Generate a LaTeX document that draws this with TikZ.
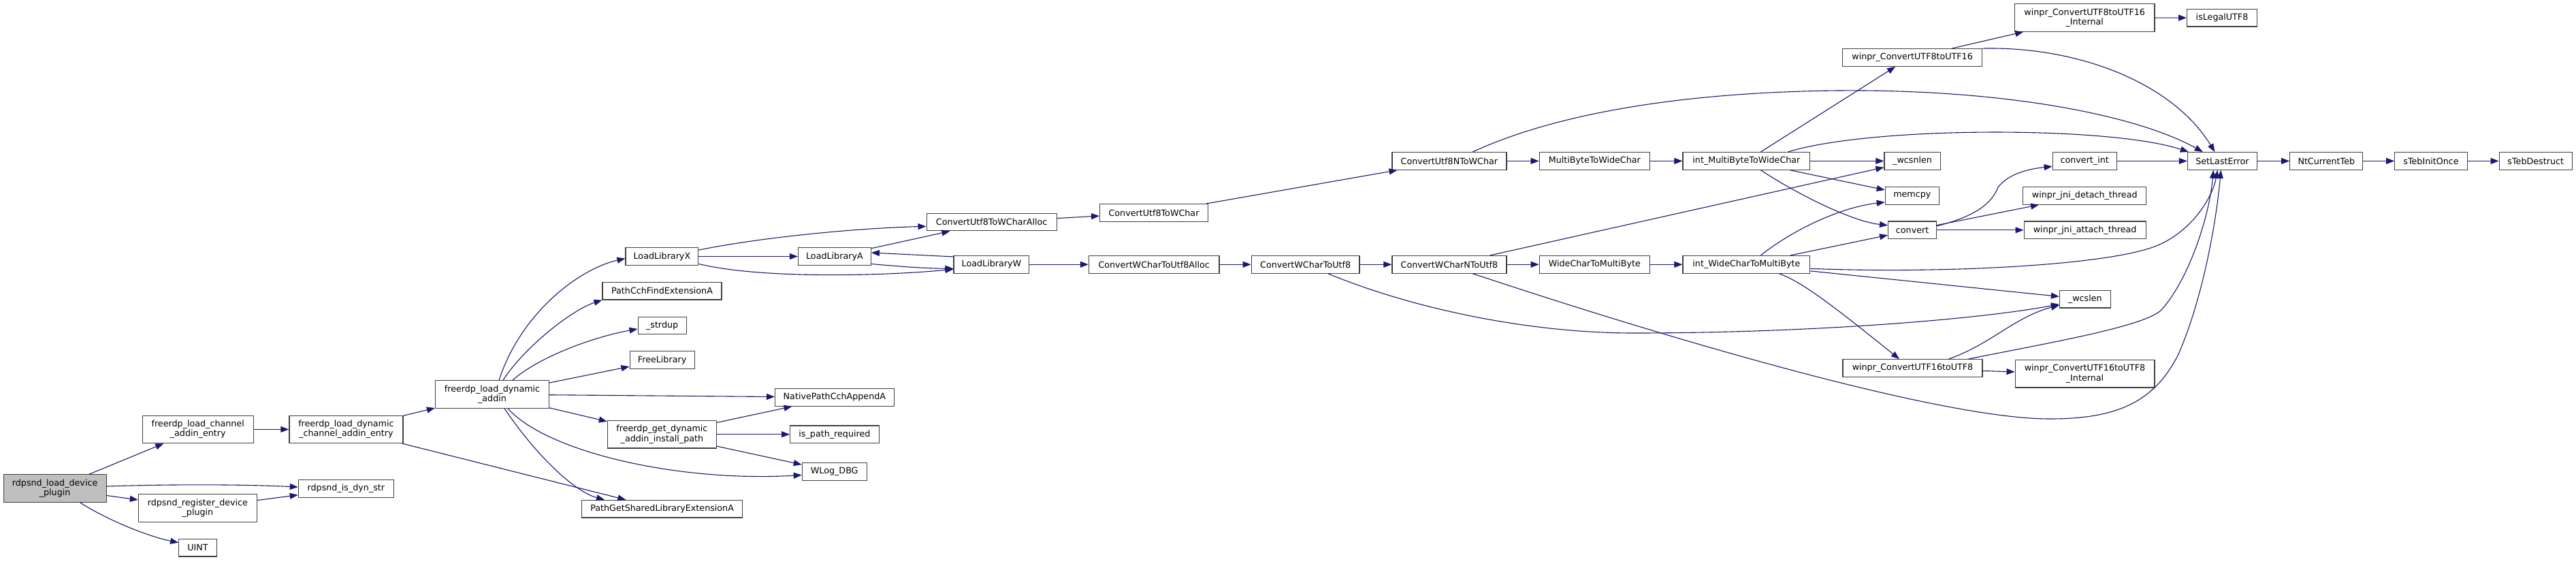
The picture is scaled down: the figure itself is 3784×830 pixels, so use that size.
\documentclass[tikz,border=0pt]{standalone}
\usepackage{fontspec}
\setmainfont{DejaVu Sans}
\usetikzlibrary{arrows.meta,calc}
\definecolor{edg}{HTML}{191970}
\definecolor{bdr}{HTML}{404040}
\definecolor{rootfill}{HTML}{BFBFBF}
\tikzset{
  fn/.style={draw=bdr, line width=1.2pt, fill=white, inner sep=0pt, minimum height=25.6pt, align=center, font=\fontsize{12.7pt}{14.5pt}\selectfont},
  fn2/.style={fn, minimum height=40.4pt},
  ed/.style={draw=edg, line width=1.1pt, -{Triangle[length=12pt,width=9pt]}},
}
\begin{document}
\begin{tikzpicture}[x=1pt,y=-1pt]
\useasboundingbox (0,0) rectangle (3784,830);
% nodes
\node[fn2, fill=rootfill, minimum width=151pt] (root) at (80.6,717) {rdpsnd\_load\_device\\\_plugin};
\node[fn2, minimum width=163pt] (lcae) at (290.7,630.4) {freerdp\_load\_channel\\\_addin\_entry};
\node[fn2, minimum width=167pt] (ldcae) at (508.4,630.4) {freerdp\_load\_dynamic\\\_channel\_addin\_entry};
\node[fn, minimum width=140pt] (isdyn) at (508.4,717.5) {rdpsnd\_is\_dyn\_str};
\node[fn2, minimum width=174pt] (reg) at (290.4,746) {rdpsnd\_register\_device\\\_plugin};
\node[fn, minimum width=55.5pt] (uint) at (290.5,804.2) {UINT};
\node[fn2, minimum width=167pt] (lda) at (723,579) {freerdp\_load\_dynamic\\\_addin};
\node[fn, minimum width=106.8pt] (llx) at (972.4,376.5) {LoadLibraryX};
\node[fn, minimum width=175pt] (pcfe) at (972.5,427.2) {PathCchFindExtensionA};
\node[fn, minimum width=71pt] (strdup) at (972.6,478) {\_strdup};
\node[fn, minimum width=95pt] (freelib) at (972.6,528.5) {FreeLibrary};
\node[fn2, minimum width=160pt] (gdaip) at (972.4,637.7) {freerdp\_get\_dynamic\\\_addin\_install\_path};
\node[fn, minimum width=236pt] (pgsle) at (972.6,747.2) {PathGetSharedLibraryExtensionA};
\node[fn, minimum width=106.8pt] (lla) at (1225.9,376.5) {LoadLibraryA};
\node[fn, minimum width=174.6pt] (npca) at (1225.9,583.3) {NativePathCchAppendA};
\node[fn, minimum width=130.6pt] (ispr) at (1225.9,637.7) {is\_path\_required};
\node[fn, minimum width=94.8pt] (wlog) at (1225.7,692.5) {WLog\_DBG};
\node[fn, minimum width=191pt] (cu8wa) at (1456.6,326) {ConvertUtf8ToWCharAlloc};
\node[fn, minimum width=110.8pt] (llw) at (1456.4,388.3) {LoadLibraryW};
\node[fn, minimum width=158.8pt] (cu8w) at (1695,312.5) {ConvertUtf8ToWChar};
\node[fn, minimum width=191.4pt] (cwu8a) at (1695.2,388.3) {ConvertWCharToUtf8Alloc};
\node[fn, minimum width=158.8pt] (cwu8) at (1917.6,388.3) {ConvertWCharToUtf8};
\node[fn, minimum width=168pt] (cu8nw) at (2128.9,236.4) {ConvertUtf8NToWChar};
\node[fn, minimum width=168pt] (cwnu8) at (2128.9,388.3) {ConvertWCharNToUtf8};
\node[fn, minimum width=162pt] (mb2wc) at (2342.3,236.4) {MultiByteToWideChar};
\node[fn, minimum width=162pt] (wc2mb) at (2342.3,388.3) {WideCharToMultiByte};
\node[fn, minimum width=186.8pt] (imb2wc) at (2565.4,236.4) {int\_MultiByteToWideChar};
\node[fn, minimum width=186.8pt] (iwc2mb) at (2565.4,388.3) {int\_WideCharToMultiByte};
\node[fn, minimum width=205.4pt] (u8to16) at (2809.1,84.5) {winpr\_ConvertUTF8toUTF16};
\node[fn, minimum width=82.4pt] (wcsnlen) at (2809.1,236.4) {\_wcsnlen};
\node[fn, minimum width=79pt] (memcpy) at (2808.8,287.3) {memcpy};
\node[fn, minimum width=71pt] (convert) at (2809.1,337.8) {convert};
\node[fn, minimum width=205pt] (u16to8) at (2809.5,540.5) {winpr\_ConvertUTF16toUTF8};
\node[fn2, minimum width=205.4pt] (u8to16i) at (3062.2,26) {winpr\_ConvertUTF8toUTF16\\\_Internal};
\node[fn, minimum width=94pt] (convint) at (3062.2,236.4) {convert\_int};
\node[fn, minimum width=181pt] (detach) at (3062.2,287.3) {winpr\_jni\_detach\_thread};
\node[fn, minimum width=179pt] (attach) at (3062.6,337.8) {winpr\_jni\_attach\_thread};
\node[fn, minimum width=74.6pt] (wcslen) at (3062.8,439.2) {\_wcslen};
\node[fn2, minimum width=204.8pt] (u16to8i) at (3062.5,548.7) {winpr\_ConvertUTF16toUTF8\\\_Internal};
\node[fn, minimum width=102.8pt] (isleg) at (3264,26.2) {isLegalUTF8};
\node[fn, minimum width=102pt] (sle) at (3264.4,236.4) {SetLastError};
\node[fn, minimum width=107pt] (ntct) at (3417.3,236.4) {NtCurrentTeb};
\node[fn, minimum width=106.4pt] (tio) at (3571,236.4) {sTebInitOnce};
\node[fn, minimum width=107pt] (tdes) at (3724.7,236.4) {sTebDestruct};
% edges
\draw[ed] (root) -- (lcae);
\draw[ed] ($(root.east)+(0,-3)$) .. controls (250,711) and (350,711) .. ($(isdyn.west)+(0,-2.5)$);
\draw[ed] (root) -- (reg);
\draw[ed] ($(root.south)+(37,0)$) .. controls (160,765) and (220,788) .. ($(uint.west)+(0,-7.5)$);
\draw[ed] (reg) -- (isdyn);
\draw[ed] (lcae) -- (ldcae);
\draw[ed] (ldcae) -- (lda);
\draw[ed] (ldcae) -- (pgsle);
\draw[ed] ($(lda.north)+(10,0)$) .. controls (765,460) and (850,395) .. ($(llx.west)+(0,3)$);
\draw[ed] ($(lda.north)+(16,0)$) .. controls (770,510) and (840,455) .. (pcfe.south west);
\draw[ed] ($(lda.north)+(30,0)$) .. controls (790,525) and (870,495) .. ($(strdup.west)+(0,5)$);
\draw[ed] (lda) -- (freelib);
\draw[ed] (lda) -- (npca);
\draw[ed] (lda) -- (gdaip);
\draw[ed] ($(lda.south)+(23,0)$) .. controls (805,665) and (1000,708) .. ($(wlog.west)+(0,5)$);
\draw[ed] ($(lda.south)+(18,0)$) .. controls (790,672) and (845,722) .. ($(pgsle.north west)+(34,0)$);
\draw[ed] (gdaip) -- (npca);
\draw[ed] (gdaip) -- (ispr);
\draw[ed] (gdaip) -- (wlog);
\draw[ed] (llx) -- (lla);
\draw[ed] ($(llx.north east)+(0,4)$) .. controls (1120,348) and (1260,335) .. ($(cu8wa.west)+(0,6.3)$);
\draw[ed] ($(llx.east)+(0,11)$) .. controls (1120,410) and (1300,405) .. ($(llw.west)+(0,7)$);
\draw[ed] (lla) -- (cu8wa);
\draw[ed] ($(llw.north west)+(0,2)$) -- ($(lla.east)+(0,-5.5)$);
\draw[ed] ($(lla.east)+(0,11)$) .. controls (1330,392) and (1360,394) .. ($(llw.west)+(0,6)$);
\draw[ed] (llw) -- (cwu8a);
\draw[ed] (cu8wa) -- (cu8w);
\draw[ed] (cu8w) -- (cu8nw);
\draw[ed] (cwu8a) -- (cwu8);
\draw[ed] (cwu8) -- (cwnu8);
\draw[ed] ($(cwu8.south)+(33,0)$) .. controls (2080,455) and (2250,489) .. (2400,489) .. controls (2650,489) and (2900,470) .. ($(wcslen.west)+(0,7.5)$);
\draw[ed] ($(cu8nw.north)+(34.4,0)$) .. controls (2300,160) and (2500,135) .. (2700,133) .. controls (2950,131) and (3140,170) .. ($(sle.north west)+(23,0)$);
\draw[ed] (cu8nw) -- (mb2wc);
\draw[ed] (mb2wc) -- (imb2wc);
\draw[ed] (imb2wc) -- (wcsnlen);
\draw[ed] (imb2wc) -- (memcpy);
\draw[ed] ($(imb2wc.south)+(21,0)$) .. controls (2640,285) and (2720,325) .. ($(convert.west)+(0,-7)$);
\draw[ed] ($(imb2wc.north)+(21,0)$) -- ($(u8to16.south)+(-25,0)$);
\draw[ed] ($(imb2wc.north east)+(-33,0)$) .. controls (2750,185) and (3100,185) .. ($(sle.north west)+(2,0)$);
\draw[ed] (cwnu8) -- (wcsnlen);
\draw[ed] (cwnu8) -- (wc2mb);
\draw[ed] ($(cwnu8.south)+(34.4,0)$) .. controls (2450,497) and (2850,615) .. (3011,615) .. controls (3110,615) and (3165,590) .. (3200,520) .. controls (3235,440) and (3255,330) .. ($(sle.south)+(-2,0)$);
\draw[ed] (wc2mb) -- (iwc2mb);
\draw[ed] ($(iwc2mb.north)+(21,0)$) .. controls (2630,340) and (2700,305) .. ($(memcpy.west)+(0,9.5)$);
\draw[ed] (iwc2mb) -- (convert);
\draw[ed] ($(iwc2mb.east)+(0,6)$) .. controls (2850,402) and (3100,390) .. (3170,360) .. controls (3220,338.6) and (3250,290) .. ($(sle.south)+(-7,0)$);
\draw[ed] (iwc2mb) -- (wcslen);
\draw[ed] ($(iwc2mb.south)+(48,0)$) .. controls (2650,415) and (2700,455) .. ($(u16to8.north)+(-19.5,0)$);
\draw[ed] ($(u16to8.north)+(53,0)$) .. controls (2925,505) and (2960,465) .. ($(wcslen.west)+(0,9)$);
\draw[ed] ($(u16to8.north)+(82,0)$) .. controls (3000,505) and (3150,480) .. (3175,455) .. controls (3215,410) and (3245,320) .. ($(sle.south)+(-13,0)$);
\draw[ed] ($(u16to8.east)+(0,4)$) -- ($(u16to8i.west)+(0,-2.7)$);
\draw[ed] (u8to16) -- (u8to16i);
\draw[ed] (u8to16.north east) .. controls (3050,68) and (3190,120) .. ($(sle.north)+(-11,0)$);
\draw[ed] (u8to16i) -- (isleg);
\draw[ed] ($(convert.east)+(0,-6)$) .. controls (2900,318) and (2925,300) .. (2935,275) .. controls (2950,255) and (2980,248) .. ($(convint.west)+(0,8)$);
\draw[ed] (convert) -- (detach);
\draw[ed] (convert) -- (attach);
\draw[ed] (convint) -- (sle);
\draw[ed] (sle) -- (ntct);
\draw[ed] (ntct) -- (tio);
\draw[ed] (tio) -- (tdes);
\end{tikzpicture}
\end{document}
